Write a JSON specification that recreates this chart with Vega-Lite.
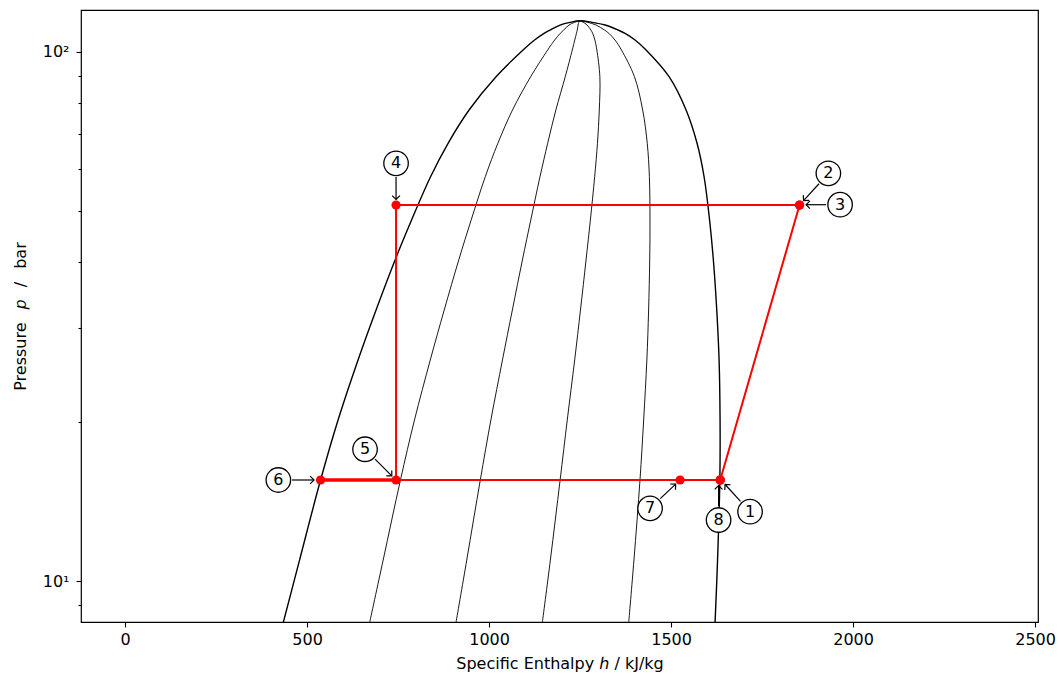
{
  "$schema": "https://vega.github.io/schema/vega-lite/v6.json",
  "width": 957,
  "height": 612,
  "autosize": {"type": "none"},
  "padding": {"left": 81, "top": 10, "right": 20, "bottom": 56},
  "background": "white",
  "config": {
    "font": "DejaVu Sans",
    "view": {"stroke": "black", "strokeWidth": 1.2},
    "axis": {"grid": false, "domain": false, "tickColor": "black", "labelColor": "black", "titleColor": "black", "labelFontSize": 16, "titleFontSize": 16, "titleFontWeight": "normal", "labelFont": "DejaVu Sans", "titleFont": "DejaVu Sans", "tickWidth": 1.1}
  },
  "datasets": {
    "curves": [
      {"c":"sat","o":1,"h":434.9,"p":8.36},{"c":"sat","o":2,"h":479.4,"p":10.956},{"c":"sat","o":3,"h":537.1,"p":15.516},{"c":"sat","o":4,"h":585.2,"p":20.148},{"c":"sat","o":5,"h":640.1,"p":26.16},{"c":"sat","o":6,"h":689.6,"p":32.51},{"c":"sat","o":7,"h":741.8,"p":40.41},{"c":"sat","o":8,"h":787.1,"p":48.09},{"c":"sat","o":9,"h":839.3,"p":58.05},{"c":"sat","o":10,"h":887.4,"p":67.14},{"c":"sat","o":11,"h":945.1,"p":77.6},{"c":"sat","o":12,"h":1019.2,"p":89.69},{"c":"sat","o":13,"h":1093.4,"p":100.74},{"c":"sat","o":14,"h":1125.0,"p":105.22},{"c":"sat","o":15,"h":1151.1,"p":108.33},{"c":"sat","o":16,"h":1167.6,"p":109.9},{"c":"sat","o":17,"h":1195.1,"p":112.31},{"c":"sat","o":18,"h":1222.5,"p":113.64},{"c":"sat","o":19,"h":1250.0,"p":114.4},
      {"c":"sat","o":20,"h":1283.0,"p":113.64},{"c":"sat","o":21,"h":1318.7,"p":112.31},{"c":"sat","o":22,"h":1354.4,"p":109.9},{"c":"sat","o":23,"h":1373.6,"p":108.33},{"c":"sat","o":24,"h":1401.1,"p":105.22},{"c":"sat","o":25,"h":1431.3,"p":100.74},{"c":"sat","o":26,"h":1494.5,"p":89.69},{"c":"sat","o":27,"h":1541.2,"p":77.6},{"c":"sat","o":28,"h":1571.4,"p":67.14},{"c":"sat","o":29,"h":1590.7,"p":58.05},{"c":"sat","o":30,"h":1605.8,"p":48.09},{"c":"sat","o":31,"h":1616.2,"p":40.41},{"c":"sat","o":32,"h":1625.5,"p":32.51},{"c":"sat","o":33,"h":1631.9,"p":26.16},{"c":"sat","o":34,"h":1634.6,"p":20.148},{"c":"sat","o":35,"h":1634.0,"p":15.516},{"c":"sat","o":36,"h":1627.7,"p":10.956},{"c":"sat","o":37,"h":1620.9,"p":8.36},
      {"c":"x0.2","o":1,"h":672.1,"p":8.36},{"c":"x0.2","o":2,"h":709.1,"p":10.956},{"c":"x0.2","o":3,"h":756.5,"p":15.516},{"c":"x0.2","o":4,"h":795.1,"p":20.148},{"c":"x0.2","o":5,"h":838.5,"p":26.16},{"c":"x0.2","o":6,"h":876.8,"p":32.51},{"c":"x0.2","o":7,"h":916.7,"p":40.41},{"c":"x0.2","o":8,"h":950.8,"p":48.09},{"c":"x0.2","o":9,"h":989.6,"p":58.05},{"c":"x0.2","o":10,"h":1024.2,"p":67.14},{"c":"x0.2","o":11,"h":1064.3,"p":77.6},{"c":"x0.2","o":12,"h":1114.3,"p":89.69},{"c":"x0.2","o":13,"h":1161.0,"p":100.74},{"c":"x0.2","o":14,"h":1180.2,"p":105.22},{"c":"x0.2","o":15,"h":1195.6,"p":108.33},{"c":"x0.2","o":16,"h":1205.0,"p":109.9},{"c":"x0.2","o":17,"h":1219.8,"p":112.31},{"c":"x0.2","o":18,"h":1234.6,"p":113.64},{"c":"x0.2","o":19,"h":1250.0,"p":114.4},
      {"c":"x0.4","o":1,"h":909.3,"p":8.36},{"c":"x0.4","o":2,"h":938.7,"p":10.956},{"c":"x0.4","o":3,"h":975.9,"p":15.516},{"c":"x0.4","o":4,"h":1005.0,"p":20.148},{"c":"x0.4","o":5,"h":1036.8,"p":26.16},{"c":"x0.4","o":6,"h":1064.0,"p":32.51},{"c":"x0.4","o":7,"h":1091.6,"p":40.41},{"c":"x0.4","o":8,"h":1114.6,"p":48.09},{"c":"x0.4","o":9,"h":1139.9,"p":58.05},{"c":"x0.4","o":10,"h":1161.0,"p":67.14},{"c":"x0.4","o":11,"h":1183.5,"p":77.6},{"c":"x0.4","o":12,"h":1209.3,"p":89.69},{"c":"x0.4","o":13,"h":1228.6,"p":100.74},{"c":"x0.4","o":14,"h":1235.4,"p":105.22},{"c":"x0.4","o":15,"h":1240.1,"p":108.33},{"c":"x0.4","o":16,"h":1242.3,"p":109.9},{"c":"x0.4","o":17,"h":1244.5,"p":112.31},{"c":"x0.4","o":18,"h":1246.7,"p":113.64},{"c":"x0.4","o":19,"h":1250.0,"p":114.4},
      {"c":"x0.6","o":1,"h":1146.5,"p":8.36},{"c":"x0.6","o":2,"h":1168.4,"p":10.956},{"c":"x0.6","o":3,"h":1195.2,"p":15.516},{"c":"x0.6","o":4,"h":1214.8,"p":20.148},{"c":"x0.6","o":5,"h":1235.2,"p":26.16},{"c":"x0.6","o":6,"h":1251.1,"p":32.51},{"c":"x0.6","o":7,"h":1266.4,"p":40.41},{"c":"x0.6","o":8,"h":1278.3,"p":48.09},{"c":"x0.6","o":9,"h":1290.1,"p":58.05},{"c":"x0.6","o":10,"h":1297.8,"p":67.14},{"c":"x0.6","o":11,"h":1302.8,"p":77.6},{"c":"x0.6","o":12,"h":1304.4,"p":89.69},{"c":"x0.6","o":13,"h":1296.1,"p":100.74},{"c":"x0.6","o":14,"h":1290.7,"p":105.22},{"c":"x0.6","o":15,"h":1284.6,"p":108.33},{"c":"x0.6","o":16,"h":1279.7,"p":109.9},{"c":"x0.6","o":17,"h":1269.3,"p":112.31},{"c":"x0.6","o":18,"h":1258.8,"p":113.64},{"c":"x0.6","o":19,"h":1250.0,"p":114.4},
      {"c":"x0.8","o":1,"h":1383.7,"p":8.36},{"c":"x0.8","o":2,"h":1398.0,"p":10.956},{"c":"x0.8","o":3,"h":1414.6,"p":15.516},{"c":"x0.8","o":4,"h":1424.7,"p":20.148},{"c":"x0.8","o":5,"h":1433.5,"p":26.16},{"c":"x0.8","o":6,"h":1438.3,"p":32.51},{"c":"x0.8","o":7,"h":1441.3,"p":40.41},{"c":"x0.8","o":8,"h":1442.1,"p":48.09},{"c":"x0.8","o":9,"h":1440.4,"p":58.05},{"c":"x0.8","o":10,"h":1434.6,"p":67.14},{"c":"x0.8","o":11,"h":1422.0,"p":77.6},{"c":"x0.8","o":12,"h":1399.4,"p":89.69},{"c":"x0.8","o":13,"h":1363.7,"p":100.74},{"c":"x0.8","o":14,"h":1345.9,"p":105.22},{"c":"x0.8","o":15,"h":1329.1,"p":108.33},{"c":"x0.8","o":16,"h":1317.0,"p":109.9},{"c":"x0.8","o":17,"h":1294.0,"p":112.31},{"c":"x0.8","o":18,"h":1270.9,"p":113.64},{"c":"x0.8","o":19,"h":1250.0,"p":114.4}
    ],
    "cycle": [
      {"o":1,"s":"1","h":1635,"p":15.52},
      {"o":2,"s":"2","h":1853,"p":51.33},
      {"o":3,"s":"3","h":1853,"p":51.33},
      {"o":4,"s":"4","h":744.5,"p":51.33},
      {"o":5,"s":"5","h":744.5,"p":15.52},
      {"o":6,"s":"6","h":537.1,"p":15.52},
      {"o":7,"s":"7","h":1524.7,"p":15.52},
      {"o":8,"s":"8","h":1635,"p":15.52},
      {"o":9,"s":"1","h":1635,"p":15.52}
    ],
    "ann": [
      {"n":"4","hl":744.5,"pl":61.54,"hs":744.5,"ps":57.98,"he":744.5,"pe":52.58,"ang":90},
      {"n":"2","hl":1932.1,"pl":58.92,"hs":1906.3,"ps":56.31,"he":1864.0,"pe":52.33,"ang":132},
      {"n":"3","hl":1964.3,"pl":51.4,"hs":1925.8,"ps":51.4,"he":1870.9,"pe":51.4,"ang":180},
      {"n":"6","hl":421.2,"pl":15.52,"hs":458.8,"ps":15.52,"he":519.2,"pe":15.52,"ang":0},
      {"n":"5","hl":659.3,"pl":17.74,"hs":686.8,"ps":16.99,"he":732.7,"pe":15.8,"ang":45},
      {"n":"7","hl":1442.3,"pl":13.72,"hs":1470.3,"ps":14.31,"he":1512.6,"pe":15.24,"ang":-43},
      {"n":"8","hl":1630.5,"pl":13.04,"hs":1630.5,"ps":13.86,"he":1630.5,"pe":15.15,"ang":-90},
      {"n":"1","hl":1717.0,"pl":13.52,"hs":1690.9,"ps":14.14,"he":1648.4,"pe":15.22,"ang":-132}
    ]
  },
  "layer": [
    {
      "data": {"name": "curves"},
      "transform": [{"filter": "datum.c == 'sat'"}],
      "mark": {"type": "line", "color": "black", "strokeWidth": 1.4, "interpolate": "catmull-rom", "clip": true},
      "encoding": {
        "x": {"field": "h", "type": "quantitative", "title": "Specific Enthalpy ℎ / kJ/kg", "scale": {"domain": [-121, 2508], "nice": false, "zero": false},
          "axis": {"values": [0, 500, 1000, 1500, 2000, 2500], "format": "d", "tickSize": 5, "labelPadding": 4, "titlePadding": 8, "labelFlush": false}},
        "y": {"field": "p", "type": "quantitative", "title": "Pressure\u2002 𝑝\u2002 /\u2002 bar", "scale": {"type": "log", "domain": [8.368, 119.9], "nice": false},
          "axis": {"values": [9, 10, 20, 30, 40, 50, 60, 70, 80, 90, 100], "labelExpr": "datum.value == 100 ? '10²' : datum.value == 10 ? '10¹' : ''", "tickSize": {"condition": {"test": "datum.value == 10 || datum.value == 100", "value": 5}, "value": 3}, "labelPadding": 7, "titlePadding": 14, "labelOverlap": false, "labelFlush": false}},
        "order": {"field": "o", "type": "quantitative"}
      }
    },
    {
      "data": {"name": "curves"},
      "transform": [{"filter": "datum.c != 'sat'"}],
      "mark": {"type": "line", "color": "black", "strokeWidth": 0.9, "interpolate": "catmull-rom", "clip": true},
      "encoding": {
        "x": {"field": "h", "type": "quantitative", "title": "Specific Enthalpy ℎ / kJ/kg"},
        "y": {"field": "p", "type": "quantitative", "title": "Pressure\u2002 𝑝\u2002 /\u2002 bar"},
        "detail": {"field": "c"},
        "order": {"field": "o", "type": "quantitative"}
      }
    },
    {
      "data": {"name": "cycle"},
      "mark": {"type": "line", "color": "red", "strokeWidth": 2},
      "encoding": {
        "x": {"field": "h", "type": "quantitative", "title": "Specific Enthalpy ℎ / kJ/kg"},
        "y": {"field": "p", "type": "quantitative", "title": "Pressure\u2002 𝑝\u2002 /\u2002 bar"},
        "order": {"field": "o", "type": "quantitative"}
      }
    },
    {
      "data": {"name": "cycle"},
      "transform": [{"filter": "datum.s == '5' || datum.s == '6'"}],
      "mark": {"type": "line", "color": "red", "strokeWidth": 3.6},
      "encoding": {
        "x": {"field": "h", "type": "quantitative", "title": "Specific Enthalpy ℎ / kJ/kg"},
        "y": {"field": "p", "type": "quantitative", "title": "Pressure\u2002 𝑝\u2002 /\u2002 bar"},
        "order": {"field": "h", "type": "quantitative"}
      }
    },
    {
      "data": {"name": "cycle"},
      "mark": {"type": "point", "shape": "circle", "filled": true, "color": "red", "size": 85, "opacity": 1},
      "encoding": {
        "x": {"field": "h", "type": "quantitative", "title": "Specific Enthalpy ℎ / kJ/kg"},
        "y": {"field": "p", "type": "quantitative", "title": "Pressure\u2002 𝑝\u2002 /\u2002 bar"}
      }
    },
    {
      "data": {"name": "ann"},
      "mark": {"type": "rule", "color": "black", "strokeWidth": 1.2},
      "encoding": {
        "x": {"field": "hs", "type": "quantitative", "title": "Specific Enthalpy ℎ / kJ/kg"},
        "y": {"field": "ps", "type": "quantitative", "title": "Pressure\u2002 𝑝\u2002 /\u2002 bar"},
        "x2": {"field": "he"},
        "y2": {"field": "pe"}
      }
    },
    {
      "data": {"name": "ann"},
      "mark": {"type": "point", "shape": "M -1 -1 L 0 0 L -1 1", "filled": false, "stroke": "black", "strokeWidth": 1.2, "size": 60, "opacity": 1},
      "encoding": {
        "x": {"field": "he", "type": "quantitative", "title": "Specific Enthalpy ℎ / kJ/kg"},
        "y": {"field": "pe", "type": "quantitative", "title": "Pressure\u2002 𝑝\u2002 /\u2002 bar"},
        "angle": {"field": "ang", "type": "quantitative", "scale": null}
      }
    },
    {
      "data": {"name": "ann"},
      "mark": {"type": "point", "shape": "circle", "filled": true, "fill": "white", "stroke": "black", "strokeWidth": 1.3, "size": 600, "opacity": 1},
      "encoding": {
        "x": {"field": "hl", "type": "quantitative", "title": "Specific Enthalpy ℎ / kJ/kg"},
        "y": {"field": "pl", "type": "quantitative", "title": "Pressure\u2002 𝑝\u2002 /\u2002 bar"}
      }
    },
    {
      "data": {"name": "ann"},
      "mark": {"type": "text", "fontSize": 16, "color": "black", "align": "center", "baseline": "middle", "font": "DejaVu Sans"},
      "encoding": {
        "x": {"field": "hl", "type": "quantitative", "title": "Specific Enthalpy ℎ / kJ/kg"},
        "y": {"field": "pl", "type": "quantitative", "title": "Pressure\u2002 𝑝\u2002 /\u2002 bar"},
        "text": {"field": "n"}
      }
    }
  ]
}
